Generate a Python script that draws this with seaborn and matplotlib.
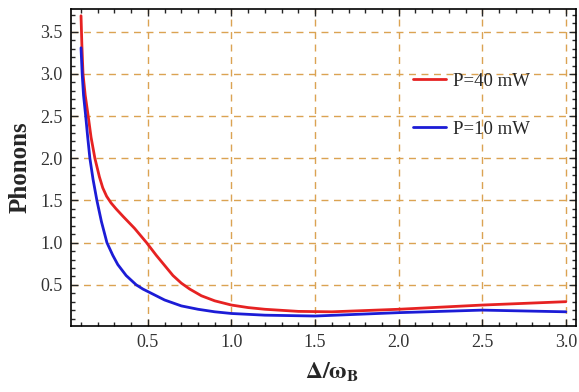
import pandas as pd
import matplotlib
matplotlib.use("Agg")
import matplotlib.pyplot as plt
import seaborn as sns
from matplotlib.ticker import MultipleLocator

# Phonon number vs detuning, two pump powers
x_40 = [0.10, 0.105, 0.112, 0.125, 0.143, 0.16, 0.183, 0.21, 0.23, 0.253, 0.28, 0.31, 0.352,
        0.42, 0.492, 0.55, 0.60, 0.65, 0.70, 0.75, 0.82, 0.90, 1.00, 1.10, 1.20, 1.40, 1.60,
        2.00, 2.50, 3.00]
p_40 = [3.69, 3.35, 3.00, 2.75, 2.50, 2.25, 2.00, 1.78, 1.65, 1.55, 1.47, 1.40, 1.31,
        1.17, 1.00, 0.85, 0.73, 0.61, 0.52, 0.45, 0.37, 0.31, 0.26, 0.23, 0.21, 0.185, 0.18,
        0.21, 0.26, 0.30]

x_10 = [0.10, 0.107, 0.115, 0.128, 0.14, 0.153, 0.172, 0.195, 0.222, 0.255, 0.29, 0.32,
        0.37, 0.40, 0.43, 0.47, 0.52, 0.60, 0.70, 0.80, 0.90, 1.00, 1.20, 1.50, 2.00, 2.50,
        2.75, 3.00]
p_10 = [3.31, 3.00, 2.75, 2.50, 2.25, 2.00, 1.75, 1.50, 1.25, 1.00, 0.85, 0.74,
        0.61, 0.555, 0.50, 0.45, 0.40, 0.32, 0.25, 0.21, 0.18, 0.16, 0.14, 0.13, 0.17, 0.20,
        0.19, 0.18]

labels = ["P=40 mW", "P=10 mW"]

df = pd.concat([
    pd.DataFrame({"x": x_40, "n": p_40, "power": labels[0]}),
    pd.DataFrame({"x": x_10, "n": p_10, "power": labels[1]}),
])

sns.set_style("ticks")
plt.rcParams["font.family"] = ["Liberation Serif", "DejaVu Serif"]
plt.rcParams["mathtext.fontset"] = "stix"

fig = plt.figure(figsize=(5.79, 3.92), dpi=100)
ax = fig.add_axes([0.1226, 0.168, 0.872, 0.809])

sns.lineplot(data=df, x="x", y="n", hue="power", hue_order=labels,
             palette=["#e62222", "#1c1cd6"], linewidth=2, sort=False, ax=ax)

ax.set_xlim(0.04, 3.06)
ax.set_ylim(0.01, 3.77)
ax.xaxis.set_minor_locator(MultipleLocator(0.1))
ax.yaxis.set_minor_locator(MultipleLocator(0.1))
ax.set_xticks([0.5, 1.0, 1.5, 2.0, 2.5, 3.0])
ax.set_yticks([0.5, 1.0, 1.5, 2.0, 2.5, 3.0, 3.5])
ax.set_xticklabels(["0.5", "1.0", "1.5", "2.0", "2.5", "3.0"])
ax.set_yticklabels(["0.5", "1.0", "1.5", "2.0", "2.5", "3.0", "3.5"])
ax.tick_params(which="both", direction="in", top=True, right=True, labelsize=13,
               labelcolor="#333333", width=1, pad=6)
ax.tick_params(which="major", length=5)
ax.tick_params(which="minor", length=3)

ax.grid(True, which="major", color="#dba352", linestyle=(0, (5, 4)), linewidth=1)
for s in ax.spines.values():
    s.set_linewidth(1.2)
    s.set_color("black")

ax.set_xlabel(r"$\mathbf{\Delta/\omega_B}$", fontsize=17, labelpad=7)
ax.xaxis.label.set_x(0.517)
ax.set_ylabel("Phonons", fontsize=18, fontweight="bold", labelpad=6)

ax.legend(frameon=False, loc="upper left", bbox_to_anchor=(0.677, 0.8),
          borderpad=0, borderaxespad=0, fontsize=13.5, labelspacing=1.67,
          handlelength=1.76, handletextpad=0.37)

fig.savefig("out.png", dpi=100)
